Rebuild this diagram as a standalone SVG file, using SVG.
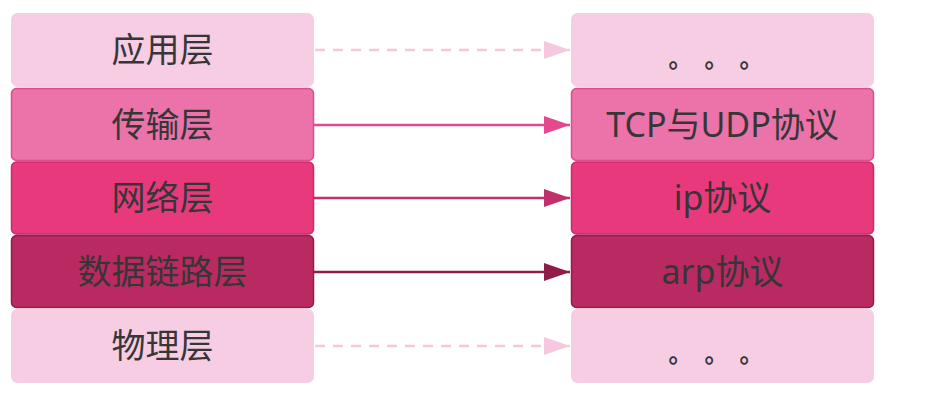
<svg xmlns="http://www.w3.org/2000/svg" width="938" height="416" viewBox="0 0 938 416">
<style>
text{font-family:"Noto Sans","Noto Sans CJK SC",sans-serif;font-size:34px;fill:#363636;text-anchor:middle}
text.dots{font-family:"Noto Sans CJK SC",sans-serif;font-size:24px;font-weight:bold;text-anchor:start}
.l1{fill:#f6cde3;stroke:#f6cde3;stroke-width:1}
.l2{fill:#ec72aa;stroke:#e04b8d;stroke-width:1.5}
.l3{fill:#e8397d;stroke:#c52d69;stroke-width:1.5}
.l4{fill:#b92a62;stroke:#8f1e4b;stroke-width:1.5}
.c{fill:none;stroke-width:2.5}
</style>
<defs>
<marker id="m1" markerUnits="userSpaceOnUse" viewBox="0 0 26 18" refX="26" refY="9" markerWidth="26" markerHeight="18" orient="auto"><path d="M0,0L26,9L0,18z" fill="#f6c8df"/></marker>
<marker id="m2" markerUnits="userSpaceOnUse" viewBox="0 0 26 18" refX="26" refY="9" markerWidth="26" markerHeight="18" orient="auto"><path d="M0,0L26,9L0,18z" fill="#e5488e"/></marker>
<marker id="m3" markerUnits="userSpaceOnUse" viewBox="0 0 26 18" refX="26" refY="9" markerWidth="26" markerHeight="18" orient="auto"><path d="M0,0L26,9L0,18z" fill="#c2306b"/></marker>
<marker id="m4" markerUnits="userSpaceOnUse" viewBox="0 0 26 18" refX="26" refY="9" markerWidth="26" markerHeight="18" orient="auto"><path d="M0,0L26,9L0,18z" fill="#8f1d4a"/></marker>
</defs>
<g id="left-app"><rect class="l1" x="11.5" y="13.5" width="302" height="73" rx="6"/><text x="162.5" y="62">应用层</text></g>
<g id="left-transport"><rect class="l2" x="11.5" y="88.5" width="302" height="72" rx="5"/><text x="162.5" y="137">传输层</text></g>
<g id="left-network"><rect class="l3" x="11.5" y="162" width="302" height="72" rx="5"/><text x="162.5" y="210">网络层</text></g>
<g id="left-link"><rect class="l4" x="11.5" y="235.5" width="302" height="72" rx="5"/><text x="162.5" y="284">数据链路层</text></g>
<g id="left-physical"><rect class="l1" x="11.5" y="309.5" width="302" height="73" rx="6"/><text x="162.5" y="358">物理层</text></g>
<g id="right-app"><rect class="l1" x="571.5" y="13.5" width="302" height="73" rx="6"/><text class="dots" y="66.5"><tspan x="668.5">。</tspan><tspan x="704.5">。</tspan><tspan x="739.5">。</tspan></text></g>
<g id="right-transport"><rect class="l2" x="571.5" y="88.5" width="302" height="72" rx="5"/><text x="722.5" y="137">TCP与UDP协议</text></g>
<g id="right-network"><rect class="l3" x="571.5" y="162" width="302" height="72" rx="5"/><text x="722.5" y="210">ip协议</text></g>
<g id="right-link"><rect class="l4" x="571.5" y="235.5" width="302" height="72" rx="5"/><text x="722.5" y="284">arp协议</text></g>
<g id="right-physical"><rect class="l1" x="571.5" y="309.5" width="302" height="73" rx="6"/><text class="dots" y="361.5"><tspan x="668.5">。</tspan><tspan x="704.5">。</tspan><tspan x="739.5">。</tspan></text></g>
<g id="connectors">
<path class="c" d="M315,50H570" stroke="#f6c8df" stroke-dasharray="10 8" marker-end="url(#m1)"/>
<path class="c" d="M314,125H570" stroke="#e5488e" marker-end="url(#m2)"/>
<path class="c" d="M314,198H570" stroke="#c2306b" marker-end="url(#m3)"/>
<path class="c" d="M314,272H570" stroke="#8f1d4a" marker-end="url(#m4)"/>
<path class="c" d="M315,346H570" stroke="#f6c8df" stroke-dasharray="10 8" marker-end="url(#m1)"/>
</g>
</svg>
